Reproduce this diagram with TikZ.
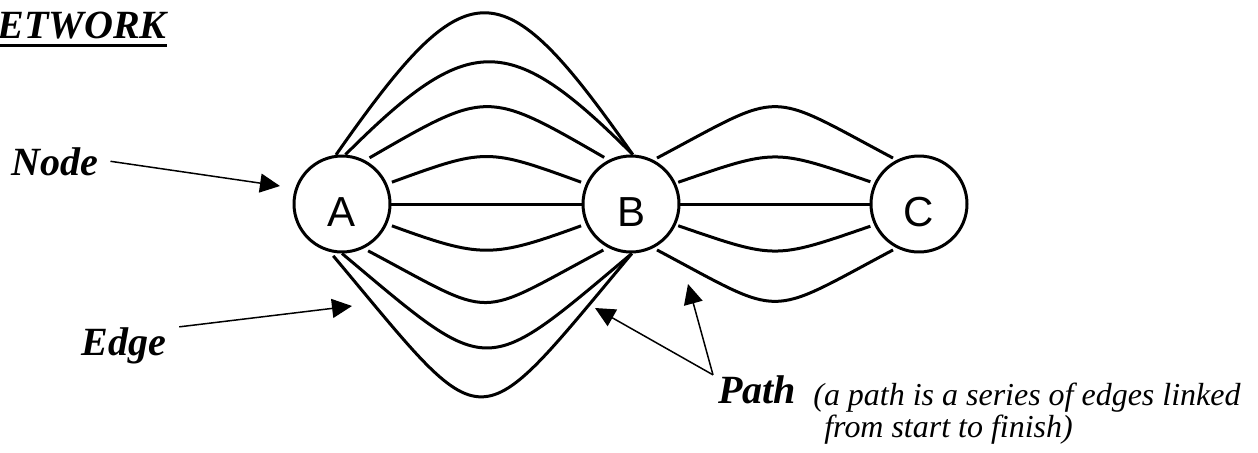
\documentclass[tikz,border=0pt]{standalone}
\usepackage{fontspec}
\setmainfont{Liberation Serif}
\newfontfamily\arialfont{Liberation Sans}
\usetikzlibrary{arrows.meta}

\begin{document}
\begin{tikzpicture}[x=0.02cm, y=0.02cm,
        vertex/.style={circle, draw, line width=0.06cm, minimum size=1.92cm, inner sep=0pt,
            font=\arialfont\fontsize{23.9}{24}\selectfont, text height=0.92cm, text depth=0pt},
        link/.style={line width=0.06cm},
        pointer/.style={line width=0.03cm, -{Triangle[length=0.4cm, width=0.38cm]}},
        tag/.style={font=\fontsize{22.8}{27}\selectfont\bfseries\itshape, inner sep=0pt, anchor=base west},
        note/.style={font=\fontsize{18.2}{18.2}\selectfont\itshape, inner sep=0pt, anchor=base west, align=left}]

                \useasboundingbox (0,0) rectangle (1258,-453);

                %----- TITLE -----
                \node[tag] (title) at (-3,-38) {ETWORK};
                \draw[line width=0.07cm]
                    ([yshift=-0.13cm]title.south west) -- ([yshift=-0.13cm]title.south east);

                %----- NODES -----
                \node[vertex] (A) at (342,-204) {A};
                \node[vertex] (B) at (631,-204) {B};
                \node[vertex] (C) at (919,-204) {C};

                %----- EDGES A TO B -----
                % upper bundle
                \draw[link] (A.97) .. controls +(55:231) and +(125:231) .. (B.88);
                \draw[link] (A.86) .. controls +(45:175) and +(135:175) .. (B.88);
                \draw[link, shorten <=0.1cm, shorten >=0.1cm]
                    (A.62) .. controls +(30:141) and +(150:141) .. (B.117);
                \draw[link, shorten <=0.1cm, shorten >=0.1cm]
                    (A.24) .. controls +(20:105) and +(160:105) .. (B.156);
                \draw[link] (A) -- (B);
                % lower bundle
                \draw[link, shorten <=0.1cm, shorten >=0.1cm]
                    (A.336) .. controls +(-20:100) and +(200:100) .. (B.204);
                \draw[link, shorten <=0.1cm, shorten >=0.1cm]
                    (A.296) .. controls +(-28:153) and +(208:153) .. (B.242);
                \draw[link] (A.270) .. controls +(-40:196) and +(220:196) .. (B.271);
                \draw[link, shorten <=0.1cm]
                    (A.256) .. controls +(-50:250) and +(230:250) .. (B.271);

                %----- EDGES B TO C -----
                \draw[link, shorten <=0.08cm, shorten >=0.08cm]
                    (B.63) .. controls +(28:150) and +(152:150) .. (C.117);
                \draw[link, shorten <=0.05cm, shorten >=0.08cm]
                    (B.25) .. controls +(19:106) and +(161:106) .. (C.155);
                \draw[link] (B) -- (C);
                \draw[link, shorten <=0.05cm, shorten >=0.08cm]
                    (B.335) .. controls +(-19:106) and +(199:106) .. (C.205);
                \draw[link, shorten <=0.08cm, shorten >=0.08cm]
                    (B.297) .. controls +(-28:150) and +(208:150) .. (C.243);

                %----- LABELS -----
                \node[tag] (nodelbl) at (11,-175) {Node};
                \node[tag] (edgelbl) at (81,-355) {Edge};
                \node[tag] (pathlbl) at (718,-403) {Path};
                % base anchor sits on the last line here
                \node[note] (pathnote) at (813,-437)
                    {(a path is a series of edges linked\\\hspace*{0.22cm}from start to finish)};

                %----- POINTERS -----
                \coordinate (nodetip) at (280,-186);
                \coordinate (edgetip) at (352,-306);
                \coordinate (pathtipA) at (595,-308);
                \coordinate (pathtipB) at (688,-284);
                \coordinate (pathsrc) at ([xshift=-0.1cm]pathlbl.north west);

                \draw[pointer] ([xshift=0.24cm]nodelbl.east) -- (nodetip);
                \draw[pointer] ([xshift=0.26cm]edgelbl.north east) -- (edgetip);
                \draw[pointer] (pathsrc) -- (pathtipA);
                \draw[pointer] (pathsrc) -- (pathtipB);

\end{tikzpicture}
\end{document}
